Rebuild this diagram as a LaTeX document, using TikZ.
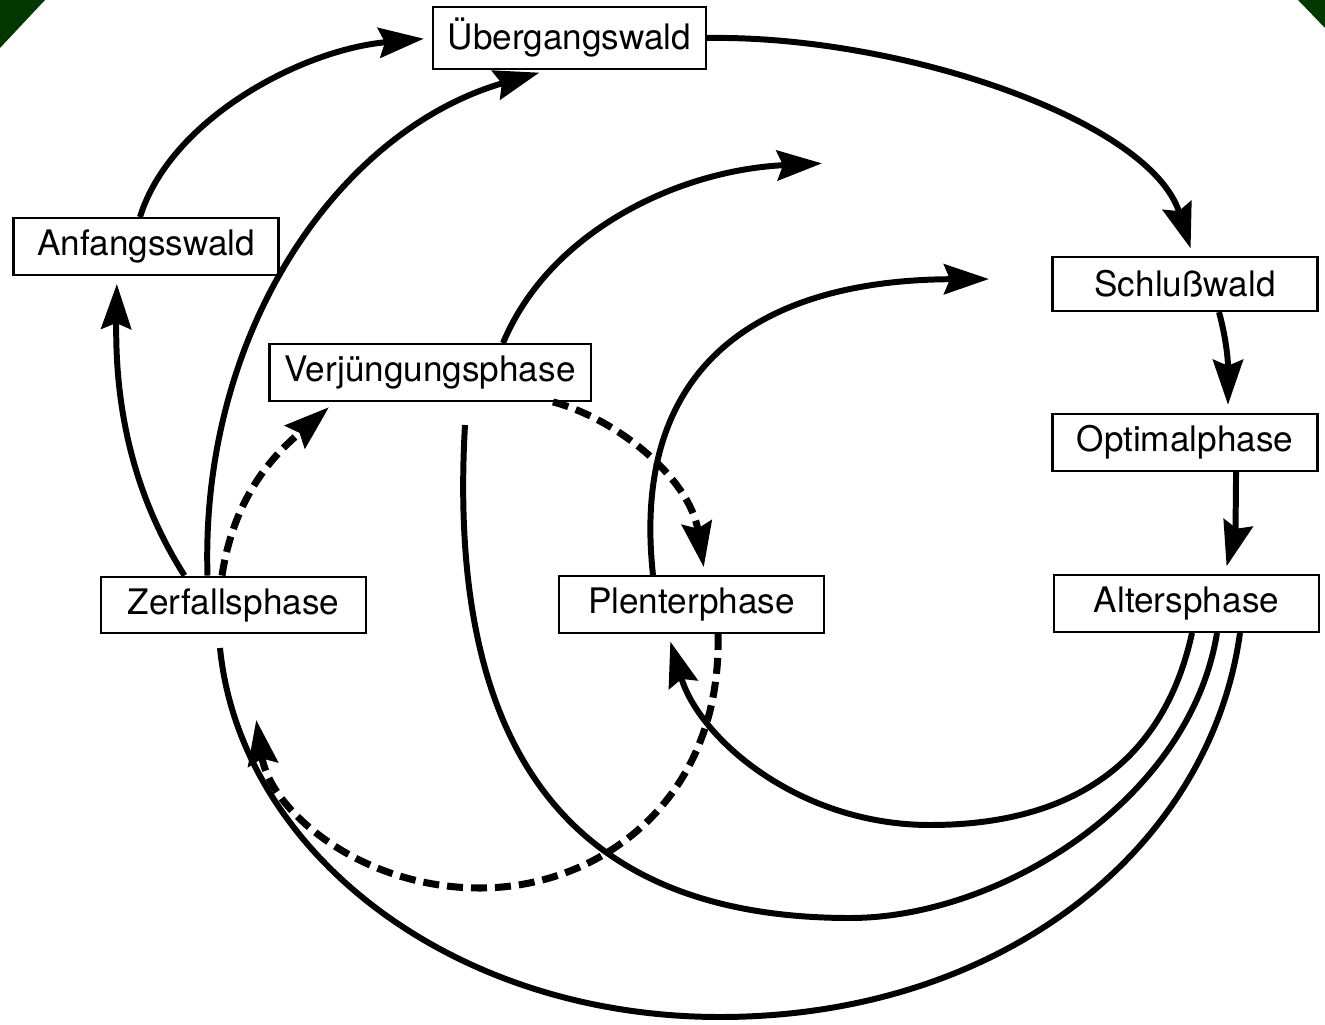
\documentclass[tikz,border=0pt]{standalone}
\usepackage{fontspec}
\setmainfont{TeX Gyre Heros}
\usetikzlibrary{arrows.meta}
\definecolor{dunkelgruen}{RGB}{0,56,0}

\begin{document}
\begin{tikzpicture}
		\useasboundingbox (0,0) rectangle (13.25,10.24);
		\fill [dunkelgruen] (0,10.24) -- (0.45,10.24) -- (0,9.76) -- cycle;
		\fill [dunkelgruen] (12.98,10.24) -- (13.25,10.24) -- (13.25,9.96) -- cycle;

		\tikzstyle{every node} = [draw, line width=.6pt, minimum width=2.65cm, minimum height=.54cm, inner xsep=1.5mm, font=\fontsize{10}{12}\selectfont]
		\node (ueber) at (5.695, 9.86) {Übergangswald};
		\node (anfang) at (1.46, 7.775) {Anfangsswald};
		\node (schluss) at (11.85, 7.40) {Schlußwald};
		\node (verj) at (4.30, 6.515) {Verjüngungsphase};
		\node (optimal) at (11.85, 5.815) {Optimalphase};
		\node (zerfall) at (2.335, 4.19) {Zerfallsphase};
		\node (plenter) at (6.915, 4.195) {Plenterphase};
		\node (alters) at (11.865, 4.205) {Altersphase};

		% freie Enden
		\coordinate (verjOben) at (8.30, 8.61);
		\coordinate (plenterOben) at (9.97, 7.45);
		\coordinate (verjUnten) at (4.65, 5.99);
		\coordinate (zerfallUnten) at (2.20, 3.76);
		\coordinate (zerfallBogen) at (2.55, 3.12);

		\tikzstyle{linie} = [line width=1.7pt]
		\tikzstyle{pfeil} = [linie, -{Stealth[length=4.5mm, width=3mm, inset=.6mm]}, shorten >=.8mm]
		\tikzstyle{strich} = [line width=2pt, dash pattern=on 1.6mm off .8mm]

		\draw [pfeil] ([xshift=-.6mm]anfang.north) .. controls (1.7,9.04) and (3.0,9.74) .. (ueber.west);
		\draw [pfeil] (ueber.east) .. controls (9.0,9.89) and (11.5,9.04) .. ([xshift=.8mm]schluss.north);
		\draw [pfeil] ([xshift=3.4mm]schluss.south) to[out=-75, in=90] ([xshift=4.3mm]optimal.north);
		\draw [pfeil] ([xshift=5.1mm]optimal.south) to[out=-90, in=75] ([xshift=3.8mm]alters.north);
		\draw [pfeil] ([xshift=-4.9mm]zerfall.north) .. controls (1.3,5.34) and (1.15,6.24) .. ([xshift=-2.9mm]anfang.south);
		\draw [pfeil] ([xshift=-2.6mm]zerfall.north) .. controls (2.0,6.94) and (3.4,8.94) .. ([xshift=-2.25mm]ueber.south);
		\draw [pfeil] ([xshift=7.3mm]verj.north) .. controls (5.5,7.94) and (6.8,8.54) .. (verjOben);
		\draw [pfeil] ([xshift=-3.85mm]plenter.north) .. controls (6.3,6.59) and (7.6,7.44) .. (plenterOben);
		\draw [pfeil] ([xshift=.55mm]alters.south) .. controls (11.6,2.44) and (10.5,1.99) .. (9.3,1.99)
			.. controls (8.0,1.99) and (7.0,2.84) .. ([xshift=-2.35mm]plenter.south);
		\draw [linie] ([xshift=3.05mm]alters.south) .. controls (11.9,2.24) and (10.0,1.06) .. (8.5,1.06)
			.. controls (5.9,1.06) and (4.45,2.5) .. (verjUnten);
		\draw [linie] ([xshift=5.35mm]alters.south) .. controls (12.1,1.74) and (10.0,0.07) .. (7.2,0.07)
			.. controls (4.5,0.07) and (2.4,1.74) .. (zerfallUnten);

		\draw [pfeil, strich] ([xshift=-1.15mm]zerfall.north) .. controls (2.35,5.34) and (2.8,5.74) .. ([xshift=-9.5mm]verj.south);
		\draw [pfeil, strich] ([xshift=12.3mm]verj.south) .. controls (6.2,6.04) and (6.9,5.44) .. ([xshift=1.35mm]plenter.north);
		\draw [pfeil, strich] ([xshift=2.65mm]plenter.south) .. controls (7.22,2.24) and (6.0,1.36) .. (4.8,1.36)
			.. controls (3.6,1.36) and (2.7,2.14) .. (zerfallBogen);
\end{tikzpicture}
\end{document}
